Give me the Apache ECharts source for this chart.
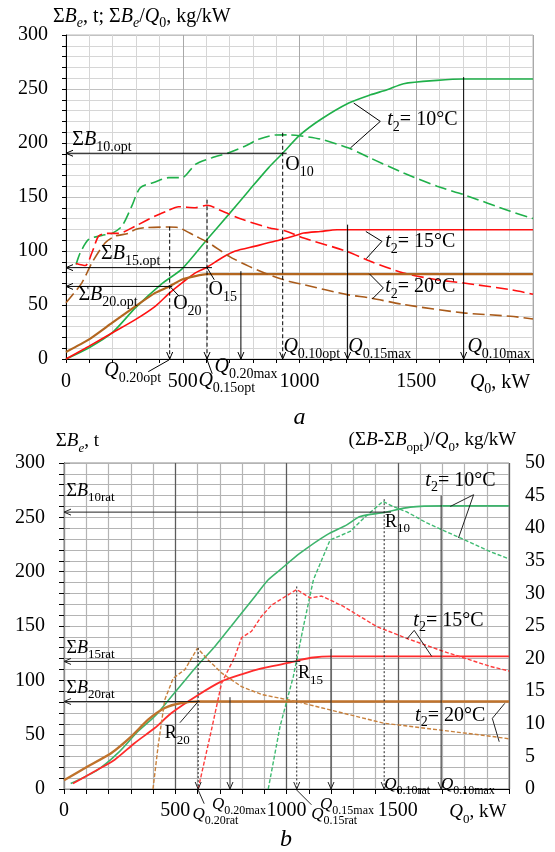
<!DOCTYPE html>
<html>
<head>
<meta charset="utf-8">
<script src="https://cdn.jsdelivr.net/npm/echarts@6/dist/echarts.min.js"></script>
<style>
  html, body { margin: 0; padding: 0; background: #fff; }
  #chart { width: 555px; height: 852px; }
</style>
</head>
<body>
<div id="chart"></div>
<script>
const SERIF = "'Liberation Serif', 'DejaVu Serif', serif";

// ---- panel a: cumulative ΣB (t) and ΣB/Q0 (kg/kW) vs Q0 (kW)
const qGreenA = [0, 97, 197, 297, 411, 497, 604, 697, 782, 868, 928, 1000, 1089, 1211, 1304, 1375, 1446, 1589, 1703, 2000];
const sumGreenA = [0, 10.2, 24.1, 47.3, 69.8, 83.5, 110.7, 133.9, 155.6, 177.2, 190.5, 207, 221.5, 237, 244.6, 249.3, 254.9, 258, 259.3, 259.3];
const qGreenRatA = [43, 61, 97, 154, 197, 240, 282, 318, 382, 440, 497, 554, 625, 697, 768, 825, 897, 954, 1000, 1089, 1211, 1304, 1446, 1589, 1703, 1903, 2000];
const ratGreenA = [87.5, 98.4, 110.7, 114.4, 116.3, 123.1, 141.7, 158.6, 163.9, 167.9, 167.9, 180.2, 186.4, 191, 197.2, 203.4, 207.4, 207.5, 206.7, 203.6, 195.3, 186, 172.2, 160, 152.2, 136.8, 130];

const qRedA = [0, 97, 197, 297, 382, 444, 497, 554, 604, 668, 725, 811, 897, 983, 1018, 1089, 1161, 2000];
const sumRedA = [0, 11.7, 24.1, 36.5, 48.8, 61.2, 70.5, 79.8, 85, 93.7, 99.9, 104.5, 109.2, 114.4, 116.6, 118.1, 119.7, 119.7];
const qRedRatA = [43, 83, 111, 140, 175, 225, 297, 382, 432, 482, 554, 604, 668, 754, 868, 940, 1018, 1204, 1304, 1446, 1589, 1703, 1903, 2000];
const ratRedA = [88.5, 86.6, 98.4, 113.8, 116.3, 116.3, 123.1, 132.4, 137, 141, 140.1, 142.3, 137, 129.3, 121.6, 118.5, 112, 99.6, 90.4, 79.6, 73.4, 70.3, 64.2, 60];

const qBrownA = [0, 97, 197, 297, 382, 444, 497, 554, 604, 2000];
const sumBrownA = [6.5, 17.9, 33.4, 48.8, 61.2, 67.4, 73.6, 76.7, 78.5, 78.5];
const qBrownRatA = [0, 68, 111, 168, 211, 268, 297, 340, 440, 482, 554, 611, 697, 782, 868, 954, 1018, 1204, 1304, 1446, 1703, 1903, 2000];
const ratBrownA = [52, 70.5, 89.1, 107.6, 113.8, 116.3, 120, 121.6, 122.2, 121.6, 113.8, 107.6, 95.3, 86, 78.2, 72, 68.8, 59.6, 56.5, 50.4, 42.7, 39.6, 37];

// ---- panel b: ΣB (t, left axis) and (ΣB-ΣBopt)/Q0 (kg/kW, right axis)
const qGreenB = [30, 153, 243, 333, 408, 483, 558, 603, 678, 768, 858, 918, 971, 1061, 1181, 1271, 1331, 1439, 1556, 1706, 2000];
const sumGreenB = [5, 17.9, 33.2, 53.1, 66.9, 85.2, 103.6, 114.3, 131.2, 154.2, 177.2, 192.5, 201.7, 217, 233.9, 243.1, 250.7, 254.5, 259.4, 260.5, 260.5];
const qRedB = [40, 138, 228, 318, 408, 483, 603, 708, 798, 888, 1008, 1046, 1120, 1200, 2000];
const sumRedB = [5, 16.3, 27, 42.4, 56.1, 69.9, 86.5, 99, 105.5, 111, 116, 118, 121, 122, 122];
const qBrownB = [0, 108, 213, 303, 378, 453, 528, 603, 2000];
const sumBrownB = [8, 20.9, 33.2, 48.5, 63.8, 74.5, 79.1, 80.5, 80.5];

const qGreenRatB = [918, 971, 1031, 1076, 1121, 1196, 1286, 1346, 1433, 1481, 1541, 1631, 1781, 1916, 2000];
const ratGreenB = [0, 9.6, 17.3, 24.9, 32.1, 38.2, 39.5, 41.5, 44.1, 43.3, 42.5, 40.8, 38.5, 36.4, 35.3];
const qRedRatB = [603, 663, 708, 768, 798, 843, 888, 933, 1046, 1106, 1158, 1256, 1406, 1556, 1706, 1916, 2000];
const ratRedB = [0, 9.1, 16.2, 20.3, 23.2, 24.2, 26.5, 28.2, 30.6, 29.3, 29.6, 28, 24.9, 22.9, 21.1, 18.8, 18.1];
const qBrownRatB = [400, 423, 453, 491, 543, 600, 648, 708, 798, 888, 1046, 1436, 1916, 2000];
const ratBrownB = [0, 6.6, 13.7, 17, 18.3, 21.6, 19.8, 17.8, 15.7, 14.5, 13.4, 10.1, 8.1, 7.7];

// ---- annotations (data units)
// vertical arrows: q, top value, line kind
const vArrowsA = [[444, 122.5, 'dash'], [604, 147.5, 'dash'], [749, 81.3, 'solid'], [928, 209.5, 'dash'], [1206, 124.4, 'solid'], [1703, 261, 'solid']];
const hArrowsA = [[190.5, 945], [84.6, 625], [67.2, 455]];
const vArrowsB = [[603, 129.7, 'dot'], [746, 84.5, 'solid'], [1046, 186.4, 'dot'], [1200, 128.8, 'solid'], [1439, 266.7, 'dot'], [1695, 270, 'solid']];
const hArrowsB = [[254.8, 1470], [117.4, 1062], [80.5, 610]];

const leadersA = [
  [[604, 84.6], [635, 73.4]],
  [[447, 66.7], [485, 58]],
  [[352, -11.8], [441, -0.9]],
  [[604, -0.6], [626, -13.6]],
  [[1232, 237], [1346, 220], [1218, 195.4]],
  [[1284, 118.1], [1353, 108.9], [1286, 92.9]],
  [[1299, 78.9], [1359, 65.8], [1312, 55.6]],
];
const leadersB = [
  [[603, 80.5], [521, 61]],
  [[603, -1], [630, -13.5]],
  [[1046, -1], [1112, -14.5]],
  [[1736, 260], [1841, 270.8], [1773, 231]],
  [[1541, 138], [1574, 146], [1653, 122]],
  [[1981, 78.8], [1925, 65], [1956, 43.5]],
];

// label: q, v, text, size, align, vertical align
const labelsA = [
  [-56, 326.2, '{r|Σ}{i|B}{si|e}{r|, t; Σ}{i|B}{si|e}{r|/}{i|Q}{s|0}{r|, kg/kW}', 20],
  [27, 211.9, '{r|Σ}{i|B}{s|10.opt}', 20],
  [150, 106.3, '{r|Σ}{i|B}{s|15.opt}', 20],
  [53, 68.3, '{r|Σ}{i|B}{s|20.opt}', 20],
  [939, 188.7, '{r|O}{s|10}', 20],
  [610, 73, '{r|O}{s|15}', 20],
  [459, 60, '{r|O}{s|20}', 20],
  [1376, 230.4, '{i|t}{s|2}{r|= 10°C}', 20],
  [1367, 117.4, '{i|t}{s|2}{r|= 15°C}', 20],
  [1367, 75.7, '{i|t}{s|2}{r|= 20°C}', 20],
  [164, -2, '{i|Q}{s|0.20opt}', 20],
  [567, -11.3, '{i|Q}{s|0.15opt}', 20],
  [636, 1.7, '{i|Q}{s|0.20max}', 20],
  [931, 20.2, '{i|Q}{s|0.10opt}', 20],
  [1209, 20.2, '{i|Q}{s|0.15max}', 20],
  [1719, 20.2, '{i|Q}{s|0.10max}', 20],
  [1988, -12.7, '{i|Q}{s|0}{r|, kW}', 20, 'right'],
  [1000, -54.4, '{i|a}', 24, 'center', 'middle'],
];
const labelsB = [
  [-37, 328.7, '{r|Σ}{i|B}{si|e}{r|, t}', 19],
  [1279, 329.6, '{r|(Σ}{i|B}{r|-Σ}{i|B}{s|opt}{r|)/}{i|Q}{s|0}{r|, kg/kW}', 19],
  [11, 282.7, '{r|Σ}{i|B}{s|10rat}', 18],
  [11, 137.8, '{r|Σ}{i|B}{s|15rat}', 18],
  [11, 101, '{r|Σ}{i|B}{s|20rat}', 18],
  [1443, 254.2, '{r|R}{s|10}', 18],
  [1052, 114.4, '{r|R}{s|15}', 18],
  [453, 59.2, '{r|R}{s|20}', 18],
  [1624, 292.8, '{i|t}{s|2}{r|= 10°C}', 20],
  [1570, 164, '{i|t}{s|2}{r|= 15°C}', 20],
  [1578, 76.6, '{i|t}{s|2}{r|= 20°C}', 20],
  [665, -6.6, '{i|Q}{s|0.20max}', 17],
  [577, -15.8, '{i|Q}{s|0.20rat}', 17],
  [1151, -6.6, '{i|Q}{s|0.15max}', 17],
  [1111, -15.8, '{i|Q}{s|0.15rat}', 17],
  [1439, 11.8, '{i|Q}{s|0.10rat}', 17],
  [1694, 11.8, '{i|Q}{s|0.10max}', 17],
  [1988, -12.6, '{i|Q}{s|0}{r|, kW}', 19, 'right'],
  [998, -46.6, '{i|b}', 24, 'center', 'middle'],
];

const pairs = (qs, vs) => qs.map((q, i) => [q, vs[i]]);

const curve = (x, y, qs, vs, color, width, dash, smooth) => ({
  type: 'line',
  xAxisIndex: x,
  yAxisIndex: y,
  data: pairs(qs, vs),
  showSymbol: false,
  symbol: 'none',
  silent: true,
  smooth: smooth,
  lineStyle: { color, width, type: dash || 'solid' },
  z: 3,
});

const blackAxis = { show: true, lineStyle: { color: '#000', width: 1 } };
const tickOut = (len, color) => ({ show: true, length: len, inside: false, lineStyle: { color: color || '#000' } });
const tickFont = { fontFamily: SERIF, fontSize: 20, color: '#000' };
const everyFifty = (v) => (v % 50 === 0 ? String(v) : '');
const everyFiveHundred = (v) => (v % 500 === 0 && v < 2000 ? String(v) : '');

const chart = echarts.init(document.getElementById('chart'));

chart.setOption({
  animation: false,
  backgroundColor: '#fff',
  grid: [
    { left: 66, top: 35, width: 467, height: 324, show: true, borderColor: '#b8b8b8', borderWidth: 1 },
    { left: 64, top: 463, width: 445, height: 326, show: true, borderColor: '#8c8c8c', borderWidth: 1 },
  ],
  xAxis: [
    {
      gridIndex: 0, type: 'value', min: 0, max: 2000, interval: 100,
      axisLine: blackAxis, axisTick: tickOut(4),
      axisLabel: { ...tickFont, margin: 13, formatter: everyFiveHundred },
      splitLine: { show: true, lineStyle: { color: '#d6d6d6', width: 1 } },
    },
    {
      gridIndex: 0, type: 'value', min: 0, max: 2000, interval: 500, position: 'top',
      axisLine: { show: false }, axisTick: { show: false }, axisLabel: { show: false },
      splitLine: { show: true, lineStyle: { color: '#a9a9a9', width: 1 } },
    },
    {
      gridIndex: 1, type: 'value', min: 0, max: 2000, interval: 100,
      axisLine: blackAxis, axisTick: tickOut(5),
      axisLabel: { ...tickFont, margin: 12, formatter: everyFiveHundred },
      splitLine: { show: true, lineStyle: { color: '#b4b4b4', width: 1.2 } },
    },
    {
      gridIndex: 1, type: 'value', min: 0, max: 2000, interval: 500, position: 'top',
      axisLine: { show: false }, axisTick: { show: false }, axisLabel: { show: false },
      splitLine: { show: true, lineStyle: { color: '#5c5c5c', width: 1.2 } },
    },
  ],
  yAxis: [
    {
      gridIndex: 0, type: 'value', min: 0, max: 300, interval: 10,
      axisLine: blackAxis, axisTick: tickOut(4),
      axisLabel: { ...tickFont, margin: 18, formatter: everyFifty },
      splitLine: { show: true, lineStyle: { color: '#d6d6d6', width: 1 } },
    },
    {
      gridIndex: 0, type: 'value', min: 0, max: 300, interval: 50, position: 'right',
      axisLine: { show: false }, axisTick: { show: false }, axisLabel: { show: false },
      splitLine: { show: true, lineStyle: { color: '#c2c2c2', width: 1 } },
    },
    {
      gridIndex: 1, type: 'value', min: 0, max: 300, interval: 10,
      axisLine: blackAxis, axisTick: tickOut(5),
      axisLabel: { ...tickFont, margin: 19, formatter: everyFifty },
      splitLine: { show: true, lineStyle: { color: '#b4b4b4', width: 1.2 } },
    },
    {
      gridIndex: 1, type: 'value', min: 0, max: 50, interval: 5, position: 'right',
      axisLine: { show: true, lineStyle: { color: '#8c8c8c' } }, axisTick: tickOut(6, '#8c8c8c'),
      axisLabel: { ...tickFont, margin: 16 },
      splitLine: { show: false },
    },
  ],
  series: [
    // panel a
    curve(0, 0, qGreenA, sumGreenA, '#1fb04a', 1.6, null, 0.25),
    curve(0, 0, qGreenRatA, ratGreenA, '#1fb04a', 1.6, [12, 5], 0.25),
    curve(0, 0, qRedA, sumRedA, '#ff1010', 1.6, null, 0.25),
    curve(0, 0, qRedRatA, ratRedA, '#ff1010', 1.6, [12, 5], 0.25),
    curve(0, 0, qBrownA, sumBrownA, '#b3661f', 2.2, null, 0.2),
    curve(0, 0, qBrownRatA, ratBrownA, '#a95b1b', 1.6, [12, 5], 0.25),
    // panel b
    curve(2, 2, qGreenB, sumGreenB, '#3db46c', 1.6, null, 0.25),
    curve(2, 2, qRedB, sumRedB, '#ff2b2b', 1.8, null, 0.25),
    curve(2, 2, qBrownB, sumBrownB, '#c0732c', 2.4, null, 0.2),
    curve(2, 3, qGreenRatB, ratGreenB, '#3fbb72', 1.4, [4, 2], false),
    curve(2, 3, qRedRatB, ratRedB, '#ff3c3c', 1.4, [4, 2], false),
    curve(2, 3, qBrownRatB, ratBrownB, '#c8803c', 1.4, [4, 2], false),
  ],
});

// ---- annotation overlay, placed through the chart's own scales
const toPx = (panel, q, v) => chart.convertToPixel(
  panel === 'a' ? { xAxisIndex: 0, yAxisIndex: 0 } : { xAxisIndex: 2, yAxisIndex: 2 },
  [q, v]
);

const dashes = { solid: null, dash: [4, 2.5], dot: [2, 2] };

const arrow = (p1, p2, kind, color) => {
  const dx = p2[0] - p1[0];
  const dy = p2[1] - p1[1];
  const len = Math.hypot(dx, dy) || 1;
  const ux = dx / len;
  const uy = dy / len;
  const h = 7;
  const w = 3;
  const bx = p2[0] - ux * h;
  const by = p2[1] - uy * h;
  return [
    {
      type: 'line', silent: true, z: 50,
      shape: { x1: p1[0], y1: p1[1], x2: p2[0], y2: p2[1] },
      style: { stroke: color, lineWidth: 1, lineDash: dashes[kind] },
    },
    {
      type: 'polyline', silent: true, z: 50,
      shape: { points: [[bx - uy * w, by + ux * w], [p2[0], p2[1]], [bx + uy * w, by - ux * w]] },
      style: { stroke: color, lineWidth: 1, fill: null },
    },
  ];
};

const richFor = (m) => {
  const s = Math.round(m * 0.7);
  const base = { fontFamily: SERIF, color: '#000', verticalAlign: 'top' };
  return {
    r: { ...base, fontSize: m, lineHeight: m },
    i: { ...base, fontSize: m, lineHeight: m, fontStyle: 'italic' },
    s: { ...base, fontSize: s, lineHeight: s, padding: [Math.round(m * 0.5), 0, 0, 0] },
    si: { ...base, fontSize: s, lineHeight: s, fontStyle: 'italic', padding: [Math.round(m * 0.5), 0, 0, 0] },
  };
};

const label = (panel, [q, v, text, size, align, vAlign]) => {
  const p = toPx(panel, q, v);
  return {
    type: 'text', silent: true, z: 60, x: p[0], y: p[1],
    style: {
      text, rich: richFor(size), fontFamily: SERIF, fontSize: size, fill: '#000',
      align: align || 'left', verticalAlign: vAlign || 'top',
    },
  };
};

const leader = (panel, pts, color) => ({
  type: 'polyline', silent: true, z: 50,
  shape: { points: pts.map(([q, v]) => toPx(panel, q, v)) },
  style: { stroke: color, lineWidth: 1, fill: null },
});

const elements = [];
vArrowsA.forEach(([q, top, kind]) => elements.push(...arrow(toPx('a', q, top), toPx('a', q, 0), kind, '#000')));
hArrowsA.forEach(([v, q]) => elements.push(...arrow(toPx('a', q, v), toPx('a', 0, v), 'solid', '#000')));
vArrowsB.forEach(([q, top, kind]) => elements.push(...arrow(toPx('b', q, top), toPx('b', q, 0), kind, '#222')));
hArrowsB.forEach(([v, q]) => elements.push(...arrow(toPx('b', q, v), toPx('b', 0, v), 'solid', '#222')));
leadersA.forEach((pts) => elements.push(leader('a', pts, '#000')));
leadersB.forEach((pts) => elements.push(leader('b', pts, '#222')));
labelsA.forEach((l) => elements.push(label('a', l)));
labelsB.forEach((l) => elements.push(label('b', l)));

chart.setOption({ graphic: elements });
</script>
</body>
</html>
